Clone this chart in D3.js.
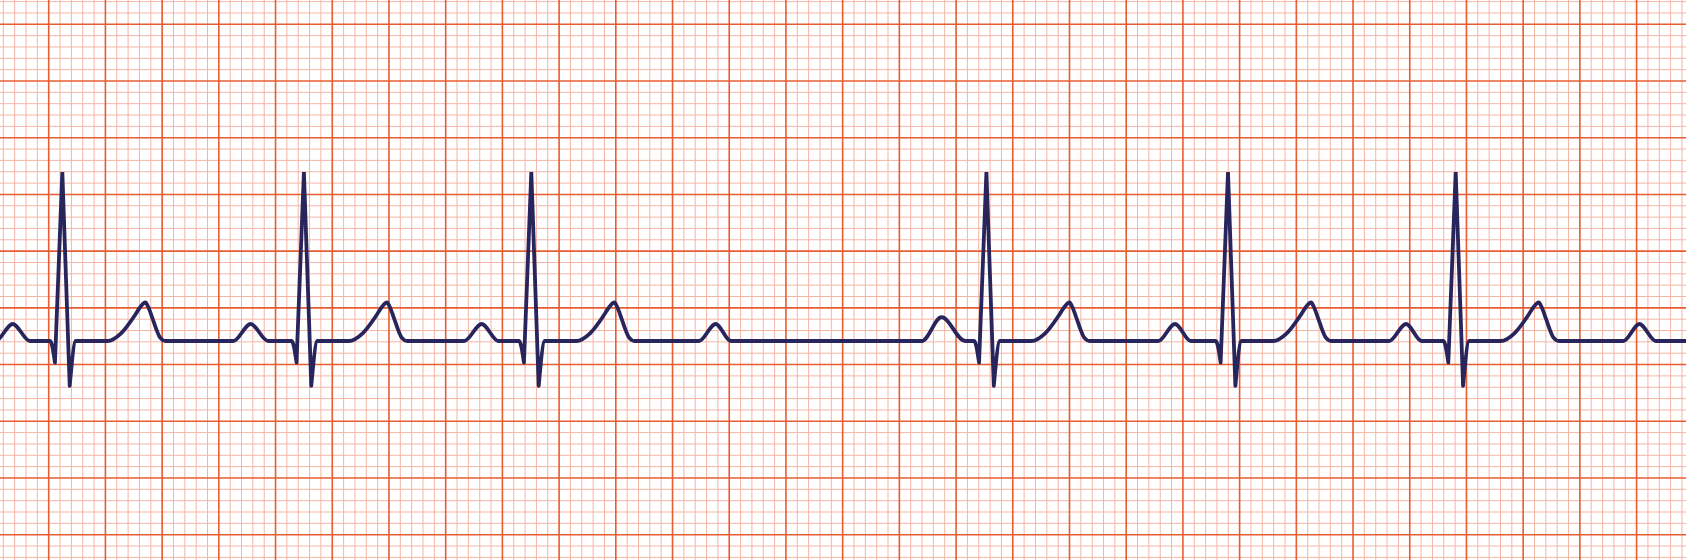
<!DOCTYPE html>
<html><head><meta charset="utf-8">
<script src="https://cdn.jsdelivr.net/npm/d3@7"></script>
<style>html,body{margin:0;padding:0;background:#fff;overflow:hidden}</style>
</head><body>
<svg id="c" width="1686" height="560"></svg>
<script>
// ---- Data: time in ms (25 mm/s paper), amplitude in mV relative to the isoelectric line ----
const rPeakTimes   = [248, 1100, 1902, 3507, 4359, 5162];
const pOnsets      = [12, 851, 1665, 2493, 3279, 4113, 4927, 5753];
const pPeakTimes   = [73, 912, 1727, 2552, 3349, 4172, 4987, 5810];
const pOffsets     = [134, 974, 1786, 2606, 3432, 4228, 5042, 5868];
const pAmplitudes  = [0.15, 0.15, 0.15, 0.15, 0.21, 0.15, 0.15, 0.15];
const qrsOffsets   = [-43, -26, 0, 26, 48];          // Q onset, Q, R, S, J (ms from R)
const qrsAmplitudes= [0, -0.19, 1.49, -0.395, 0];
const tOffsets     = [159, 208, 254, 275, 293, 303, 318, 332, 345, 364];
const tAmplitudes  = [0, 0.07, 0.22, 0.30, 0.34, 0.30, 0.20, 0.10, 0.03, 0];
const stripStart = 0, stripEnd = 6000;

// ---- Layout ----
const W = 1686, H = 560;
const pxPerMs = 11.342 / 40;      // 1 small box = 40 ms
const pxPerMv = 113.42;           // 1 small box = 0.1 mV
const x = d3.scaleLinear().domain([0, 1000]).range([-8.0, -8.0 + 1000 * pxPerMs]);
const y = d3.scaleLinear().domain([0, 1]).range([341, 341 - pxPerMv]);
const gridPhaseMv = -0.2077;

const svg = d3.select('#c');
svg.append('rect').attr('width', W).attr('height', H).attr('fill', '#ffffff');

const vIdx = d3.range(0, 152);
const hIdx = d3.range(-18, 34);
const minorColor = '#f5b5a5', majorColor = '#e85c32';

const gMinor = svg.append('g');
const gMajor = svg.append('g');
vIdx.forEach(i => {
  const xx = x(i * 40);
  (i % 5 === 0 ? gMajor : gMinor).append('line')
    .attr('x1', xx).attr('x2', xx).attr('y1', 0).attr('y2', H)
    .attr('stroke', i % 5 === 0 ? majorColor : minorColor)
    .attr('stroke-width', i % 5 === 0 ? 1.6 : 1);
});
hIdx.forEach(i => {
  const yy = y(gridPhaseMv + i * 0.1);
  const major = ((i % 5) + 5) % 5 === 0;
  (major ? gMajor : gMinor).append('line')
    .attr('x1', 0).attr('x2', W).attr('y1', yy).attr('y2', yy)
    .attr('stroke', major ? majorColor : minorColor)
    .attr('stroke-width', major ? 1.6 : 1);
});

// ---- Trace ----
const pts = [{t: stripStart, v: 0, k: 'c'}];
pOnsets.forEach((_, i) => {
  pts.push({t: pOnsets[i], v: 0, k: 'c'},
           {t: pPeakTimes[i], v: pAmplitudes[i], k: 'c'},
           {t: pOffsets[i], v: 0, k: 'c'});
});
const kinds = ['c', 'q', 'r', 's', 'c'];
rPeakTimes.forEach(r => {
  qrsOffsets.forEach((o, j) => pts.push({t: r + o, v: qrsAmplitudes[j], k: kinds[j]}));
  tOffsets.forEach((o, j) => pts.push({t: r + o, v: tAmplitudes[j], k: 'c'}));
});
pts.push({t: stripEnd, v: 0, k: 'c'});
pts.sort((a, b) => a.t - b.t);

const segs = [];
let cur = [];
pts.forEach(p => {
  if (p.k === 'q') { cur.push(p); segs.push({lin: false, pts: cur}); cur = [p]; }
  else if (p.k === 'r') { cur.push(p); }
  else if (p.k === 's') { cur.push(p); segs.push({lin: true, pts: cur}); cur = [p]; }
  else cur.push(p);
});
segs.push({lin: false, pts: cur});

const smooth = d3.line().x(d => x(d.t)).y(d => y(d.v)).curve(d3.curveMonotoneX);
const linear = d3.line().x(d => x(d.t)).y(d => y(d.v)).curve(d3.curveLinear);
const dStr = segs.map(s => (s.lin ? linear : smooth)(s.pts)).join('');

svg.append('path')
  .attr('d', dStr)
  .attr('fill', 'none')
  .attr('stroke', '#27255c')
  .attr('stroke-width', 3.8)
  .attr('stroke-linecap', 'round')
  .attr('stroke-linejoin', 'miter');
</script>
</body></html>
